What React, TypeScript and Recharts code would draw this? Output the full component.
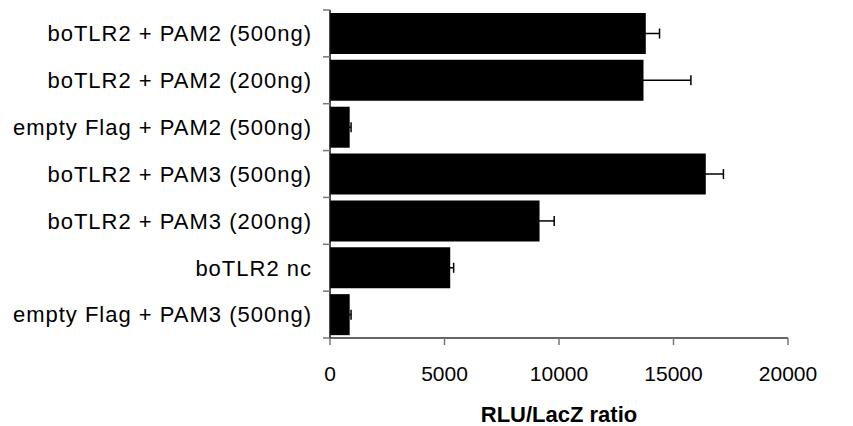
import React from "react";
import { BarChart, Bar, XAxis, YAxis, ErrorBar } from "recharts";

const categories = [
  "boTLR2 + PAM2 (500ng)",
  "boTLR2 + PAM2 (200ng)",
  "empty Flag + PAM2 (500ng)",
  "boTLR2 + PAM3 (500ng)",
  "boTLR2 + PAM3 (200ng)",
  "boTLR2 nc",
  "empty Flag + PAM3 (500ng)",
];
const values = [13790, 13690, 860, 16410, 9150, 5250, 860];
const errors = [600, 2070, 60, 770, 640, 150, 60];
const xTicks = [0, 5000, 10000, 15000, 20000];

const data = categories.map((name, i) => ({ name, value: values[i], err: errors[i] }));

const FONT = "Arial, 'Liberation Sans', Helvetica, sans-serif";

const CategoryTick = (props: any) => {
  const { x, y, payload, index, visibleTicksCount } = props;
  const off = payload && payload.offset != null ? payload.offset : 23.4;
  const lx1 = x + 11;
  const lx2 = x + 18;
  const isLast = index === (visibleTicksCount ?? categories.length) - 1;
  return (
    <g>
      <line x1={lx1} x2={lx2} y1={y - off} y2={y - off} stroke="#777" strokeWidth={1.5} />
      {isLast && (
        <line x1={lx1} x2={lx2} y1={y + off} y2={y + off} stroke="#777" strokeWidth={1.5} />
      )}
      <text
        x={x}
        y={y}
        dy="0.36em"
        textAnchor="end"
        fontSize={22}
        letterSpacing={1}
        fill="#000"
        fontFamily={FONT}
      >
        {payload.value}
      </text>
    </g>
  );
};

export default function App() {
  return (
    <div style={{ position: "absolute", left: 0, top: 0, background: "#fff" }}>
      <BarChart
        width={853}
        height={426}
        data={data}
        layout="vertical"
        margin={{ top: 10, right: 65, bottom: 0, left: 10 }}
        barSize={41}
      >
        <XAxis
          type="number"
          domain={[0, 20000]}
          ticks={xTicks}
          interval={0}
          height={88}
          tickSize={7}
          tickMargin={21}
          axisLine={{ stroke: "#333", strokeWidth: 1.5 }}
          tickLine={{ stroke: "#777", strokeWidth: 1.5 }}
          tick={{ fontSize: 21, fill: "#000", fontFamily: FONT }}
          label={{
            value: "RLU/LacZ ratio",
            position: "insideBottom",
            offset: 4,
            fontSize: 22,
            fontWeight: "bold",
            fill: "#000",
            fontFamily: FONT,
          }}
        />
        <YAxis
          type="category"
          dataKey="name"
          width={320}
          interval={0}
          tickSize={7}
          tickMargin={11}
          tickLine={false}
          axisLine={{ stroke: "#111", strokeWidth: 1.5 }}
          tick={<CategoryTick />}
        />
        <Bar dataKey="value" fill="#000" isAnimationActive={false}>
          <ErrorBar dataKey="err" direction="x" width={5} stroke="#000" strokeWidth={1.5} />
        </Bar>
      </BarChart>
    </div>
  );
}
